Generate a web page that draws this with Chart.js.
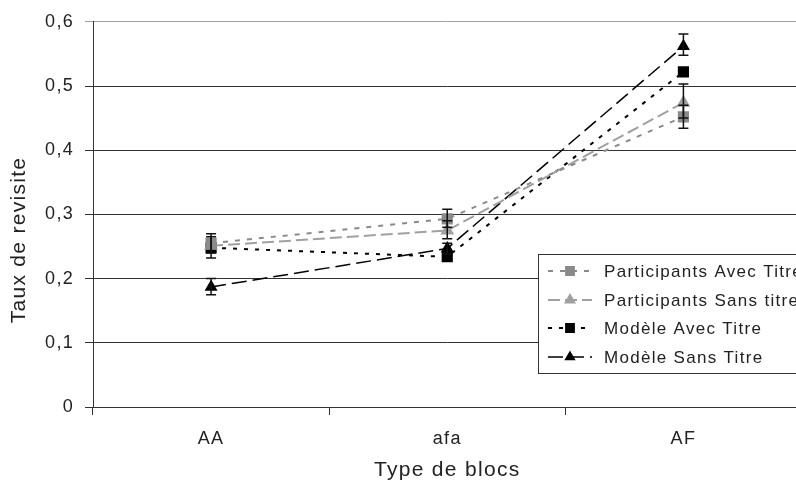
<!DOCTYPE html>
<html>
<head>
<meta charset="utf-8">
<script src="https://cdn.jsdelivr.net/npm/chart.js@4.4.1/dist/chart.umd.min.js"></script>
<style>
html, body { margin: 0; padding: 0; background: #fff; overflow: hidden; }
canvas { display: block; }
</style>
</head>
<body>
<canvas id="myChart" width="810" height="484"></canvas>
<script>
// categories and tick labels
var categories = ['AA', 'afa', 'AF'];
var yTickLabels = ['0', '0,1', '0,2', '0,3', '0,4', '0,5', '0,6'];

// series (taux de revisite)
var partAvec = [0.255, 0.293, 0.452];
var partSans = [0.251, 0.275, 0.474];
var modAvec  = [0.248, 0.234, 0.522];
var modSans  = [0.187, 0.247, 0.562];

// error bars (low / high)
var partAvecLow  = [0.232, 0.280, 0.434];
var partAvecHigh = [0.270, 0.308, 0.470];
var partSansLow  = [0.240, 0.262, 0.450];
var partSansHigh = [0.265, 0.290, 0.503];
var modSansLow   = [0.175, 0.238, 0.548];
var modSansHigh  = [0.200, 0.255, 0.581];

var FONT = "'Liberation Sans', Arial, sans-serif";

function setSpacing(chart){
    chart.ctx.letterSpacing = '1.3px';
}

var spacingPlugin = {
    id: 'spacing',
    beforeLayout: setSpacing,
    beforeDraw: setSpacing
};

var errorBars = {
    id: 'errorBars',
    afterDatasetsDraw: function(chart){
        var ctx = chart.ctx;
        var xs = chart.scales.x, ys = chart.scales.y;
        ctx.save();
        ctx.strokeStyle = '#111';
        ctx.lineWidth = 1.5;
        ctx.setLineDash([]);
        chart.data.datasets.forEach(function(ds){
            if (!ds.errLow) return;
            for (var i = 0; i < ds.data.length; i++) {
                var x = xs.getPixelForValue(i);
                var y1 = ys.getPixelForValue(ds.errLow[i]);
                var y2 = ys.getPixelForValue(ds.errHigh[i]);
                ctx.beginPath();
                ctx.moveTo(x, y1); ctx.lineTo(x, y2);
                ctx.moveTo(x - 5, y1); ctx.lineTo(x + 5, y1);
                ctx.moveTo(x - 5, y2); ctx.lineTo(x + 5, y2);
                ctx.stroke();
            }
        });
        ctx.restore();
    }
};

var boxLegend = {
    id: 'boxLegend',
    afterDraw: function(chart){
        var ctx = chart.ctx;
        var left = 538, top = 254, bottom = 373;
        ctx.save();
        ctx.fillStyle = '#fff';
        ctx.fillRect(left, top, chart.width - left + 5, bottom - top);
        ctx.strokeStyle = '#333';
        ctx.lineWidth = 1;
        ctx.strokeRect(left + 0.5, top + 0.5, chart.width - left + 5, bottom - top);
        var rows = [271, 300, 328, 357];
        chart.data.datasets.forEach(function(ds, i){
            var y = rows[i];
            ctx.strokeStyle = ds.borderColor;
            ctx.lineWidth = ds.borderWidth;
            ctx.setLineDash(ds.borderDash);
            ctx.beginPath();
            ctx.moveTo(548, y); ctx.lineTo(592, y);
            ctx.stroke();
            ctx.setLineDash([]);
            ctx.fillStyle = ds.pointBackgroundColor;
            ctx.strokeStyle = ds.pointBorderColor;
            Chart.helpers.drawPoint(ctx, {pointStyle: ds.pointStyle, radius: ds.pointRadius - 1, rotation: 0, borderWidth: 1}, 570, y);
            ctx.fillStyle = '#222';
            ctx.font = '17px ' + FONT;
            ctx.textAlign = 'left';
            ctx.textBaseline = 'middle';
            ctx.fillText(ds.label, 604, y + 1);
        });
        // y axis title
        ctx.translate(19, 240);
        ctx.rotate(-Math.PI / 2);
        ctx.font = '21px ' + FONT;
        ctx.fillStyle = '#222';
        ctx.textAlign = 'center';
        ctx.textBaseline = 'middle';
        ctx.fillText('Taux de revisite', 0, 0);
        ctx.restore();
    }
};

document.addEventListener('DOMContentLoaded', drawChart);

function drawChart(){
    var ctx = document.getElementById('myChart').getContext('2d');
    new Chart(ctx, {
        type: 'line',
        data: {
            labels: categories,
            datasets: [{
                label: 'Participants Avec Titre',
                data: partAvec,
                errLow: partAvecLow, errHigh: partAvecHigh,
                borderColor: '#8a8a8a',
                borderWidth: 2,
                borderDash: [5, 7],
                pointStyle: 'rect',
                pointRadius: 6.5,
                pointBackgroundColor: '#8a8a8a',
                pointBorderColor: '#8a8a8a',
                lineTension: 0
            }, {
                label: 'Participants Sans titre',
                data: partSans,
                errLow: partSansLow, errHigh: partSansHigh,
                borderColor: '#a0a0a0',
                borderWidth: 2,
                borderDash: [12, 5],
                pointStyle: 'triangle',
                pointRadius: 6,
                pointBackgroundColor: '#a0a0a0',
                pointBorderColor: '#a0a0a0',
                lineTension: 0
            }, {
                label: 'Modèle Avec Titre',
                data: modAvec,
                borderColor: '#000',
                borderWidth: 2,
                borderDash: [4, 7],
                pointStyle: 'rect',
                pointRadius: 6.5,
                pointBackgroundColor: '#000',
                pointBorderColor: '#000',
                lineTension: 0
            }, {
                label: 'Modèle Sans Titre',
                data: modSans,
                errLow: modSansLow, errHigh: modSansHigh,
                borderColor: '#000',
                borderWidth: 1.5,
                borderDash: [15, 6],
                pointStyle: 'triangle',
                pointRadius: 6,
                pointBackgroundColor: '#000',
                pointBorderColor: '#000',
                lineTension: 0
            }]
        },
        options: {
            responsive: false,
            animation: {duration: 0},
            layout: {padding: {top: 20, right: 7, left: 0, bottom: 0}},
            plugins: {legend: {display: false}, tooltip: {enabled: false}},
            scales: {
                x: {
                    offset: true,
                    grid: {offset: true, drawOnChartArea: false, tickLength: 8, color: '#333'},
                    border: {color: '#333'},
                    ticks: {font: {family: FONT, size: 18}, color: '#222', padding: 13},
                    title: {display: true, text: 'Type de blocs', font: {family: FONT, size: 21}, color: '#222', padding: {top: 2, bottom: 1}},
                    afterFit: function(s){ s.height = 77; }
                },
                y: {
                    min: 0, max: 0.6,
                    ticks: {
                        stepSize: 0.1,
                        font: {family: FONT, size: 18},
                        color: '#222',
                        padding: 11,
                        callback: function(v, i){ return yTickLabels[i]; }
                    },
                    grid: {
                        tickLength: 8,
                        color: function(c){ return c.index === yTickLabels.length - 1 ? '#a0a0a0' : '#333'; }
                    },
                    border: {color: '#333'},
                    afterFit: function(s){ s.width = 93; }
                }
            }
        },
        plugins: [spacingPlugin, errorBars, boxLegend]
    });
}
</script>
</body>
</html>
